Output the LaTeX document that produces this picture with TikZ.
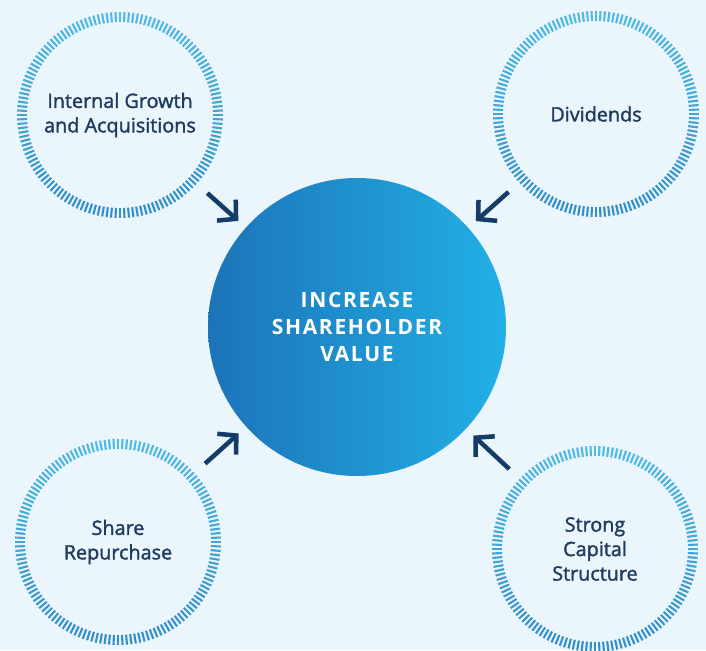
\documentclass[tikz,border=0pt]{standalone}
\usepackage{fontspec}
\setmainfont{Open Sans}
\newfontfamily\ringfont[FakeBold=1.6]{Open Sans}
\usetikzlibrary{arrows.meta}
\definecolor{bg}{HTML}{EBF5FC}
\definecolor{navy}{HTML}{143C68}
\definecolor{txt}{HTML}{1F3B5E}
\definecolor{tickdark}{HTML}{2A82C2}
\definecolor{ticklight}{HTML}{55C0E8}
\definecolor{cleft}{HTML}{1C73B8}
\definecolor{cright}{HTML}{22B0E6}
\begin{document}
\begin{tikzpicture}[x=1pt,y=-1pt,
  ring/.style={circle, minimum size=206pt, inner sep=0pt, align=center,
    font=\ringfont\fontsize{19.8}{24.5}\selectfont, text=txt},
  hub/.style={circle, minimum size=298pt, inner sep=0pt, align=center,
    left color=cleft, right color=cright, text=white,
    font=\fontsize{21}{27}\selectfont\bfseries\addfontfeatures{LetterSpace=8}},
  tick/.style={line width=2.1pt},
  arr/.style={draw=navy, line width=4.5pt,
    -{Straight Barb[length=13pt,width=28pt,sharp]},
    shorten <=14pt, shorten >=10pt}]
\useasboundingbox[fill=bg] (0,0) rectangle (706,650);

\node[hub] (c) at (357,327) {INCREASE\\SHAREHOLDER\\VALUE};
\node[ring] (tl) at (120,115) {Internal Growth\\and Acquisitions};
\node[ring] (tr) at (596,114) {Dividends};
\node[ring] (bl) at (118,542) {Share\\Repurchase};
\node[ring] (br) at (595,549) {Strong\\Capital\\Structure};

\foreach \n in {tl,tr,bl,br}{
  \foreach \a in {0,2.5,...,357.5}{
    \pgfmathtruncatemacro\p{55-35*sin(\a)}
    \draw[tick, color=ticklight!\p!tickdark]
      ([shift={(\a:93)}]\n.center) -- ([shift={(\a:103)}]\n.center);
  }
}

\draw[arr] (tl) -- (c);
\draw[arr] (tr) -- (c);
\draw[arr] (bl) -- (c);
\draw[arr] (br) -- (c);
\end{tikzpicture}
\end{document}
